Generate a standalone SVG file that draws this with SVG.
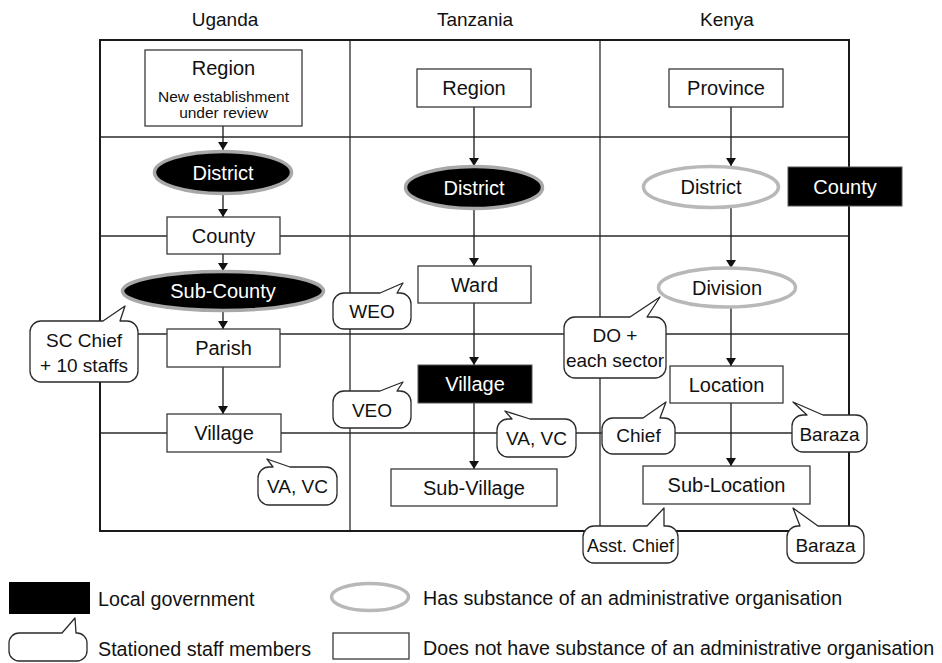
<svg xmlns="http://www.w3.org/2000/svg" width="942" height="663" viewBox="0 0 942 663">
  <defs>
    <style>
      text { font-family: "Liberation Sans", Arial, Helvetica, sans-serif; fill: #111; }
      .hdr { font-size: 19px; text-anchor: middle; }
      .node { font-size: 20px; text-anchor: middle; }
      .small { font-size: 15.5px; text-anchor: middle; }
      .inv { fill: #fff; }
      .call { font-size: 19px; text-anchor: middle; }
      .leg { font-size: 19.7px; }
      .frame { fill: none; stroke: #1a1a1a; stroke-width: 2; }
      .grid { stroke: #2a2a2a; stroke-width: 1.3; fill: none; }
      .box { fill: #fff; stroke: #3a3a3a; stroke-width: 1.3; }
      .lg { fill: #000; stroke: #555; stroke-width: 1; }
      .lgell { fill: #000; stroke: #a8a8a8; stroke-width: 3.5; }
      .adm { fill: #fff; stroke: #b8b8b8; stroke-width: 3.5; }
      .bubble { fill: #fff; stroke: #2a2a2a; stroke-width: 1.3; stroke-linejoin: round; }
      .conn { stroke: #1a1a1a; stroke-width: 1.3; fill: none; marker-end: url(#arrow); }
    </style>
    <marker id="arrow" viewBox="0 0 8 10" markerUnits="userSpaceOnUse" markerWidth="8" markerHeight="10" refX="8" refY="5" orient="auto">
      <path d="M0,0 L8,5 L0,10 Z" fill="#111"/>
    </marker>
  </defs>

  <rect width="942" height="663" fill="#fff"/>

  <!-- column headings -->
  <g id="headings">
    <text class="hdr" x="225" y="26">Uganda</text>
    <text class="hdr" x="475" y="26">Tanzania</text>
    <text class="hdr" x="727" y="26">Kenya</text>
  </g>

  <!-- table grid -->
  <g id="grid">
    <line class="grid" x1="350" y1="40" x2="350" y2="531"/>
    <line class="grid" x1="600" y1="40" x2="600" y2="531"/>
    <line class="grid" x1="100" y1="137" x2="849" y2="137"/>
    <line class="grid" x1="100" y1="236" x2="849" y2="236"/>
    <line class="grid" x1="100" y1="334" x2="849" y2="334"/>
    <line class="grid" x1="100" y1="433" x2="849" y2="433"/>
    <rect class="frame" x="100" y="40" width="749" height="491"/>
  </g>

  <!-- hierarchy connectors -->
  <g id="connectors">
    <line class="conn" x1="223" y1="126" x2="223" y2="150"/>
    <line class="conn" x1="223" y1="194" x2="223" y2="217"/>
    <line class="conn" x1="223" y1="254" x2="223" y2="271"/>
    <line class="conn" x1="223" y1="311" x2="223" y2="329"/>
    <line class="conn" x1="223" y1="367" x2="223" y2="414"/>

    <line class="conn" x1="474" y1="107" x2="474" y2="166"/>
    <line class="conn" x1="474" y1="209" x2="474" y2="266"/>
    <line class="conn" x1="474" y1="303" x2="474" y2="365"/>
    <line class="conn" x1="474" y1="403" x2="474" y2="469"/>

    <line class="conn" x1="731" y1="107" x2="731" y2="166"/>
    <line class="conn" x1="731" y1="208" x2="731" y2="268"/>
    <line class="conn" x1="731" y1="307" x2="731" y2="366"/>
    <line class="conn" x1="731" y1="403" x2="731" y2="466"/>
  </g>

  <!-- Uganda -->
  <g id="ug-region">
    <rect class="box" x="145" y="50" width="157" height="76"/>
    <text class="node" x="223.5" y="75">Region</text>
    <text class="small" x="223.5" y="102">New establishment</text>
    <text class="small" x="223.5" y="118">under review</text>
  </g>
  <g id="ug-district">
    <ellipse class="lgell" cx="223" cy="172.5" rx="68.5" ry="21"/>
    <text class="node inv" x="223" y="179.5">District</text>
  </g>
  <g id="ug-county">
    <rect class="box" x="167" y="217" width="113" height="37"/>
    <text class="node" x="223.5" y="242.5">County</text>
  </g>
  <g id="ug-subcounty">
    <ellipse class="lgell" cx="223" cy="291" rx="100.5" ry="19.5"/>
    <text class="node inv" x="223" y="298">Sub-County</text>
  </g>
  <g id="ug-parish">
    <rect class="box" x="167" y="329" width="113" height="38"/>
    <text class="node" x="223.5" y="355">Parish</text>
  </g>
  <g id="ug-village">
    <rect class="box" x="167" y="414" width="114" height="38"/>
    <text class="node" x="224" y="440">Village</text>
  </g>

  <!-- Tanzania -->
  <g id="tz-region">
    <rect class="box" x="417" y="69" width="114" height="38"/>
    <text class="node" x="474" y="95">Region</text>
  </g>
  <g id="tz-district">
    <ellipse class="lgell" cx="474" cy="187.5" rx="68.5" ry="21"/>
    <text class="node inv" x="474" y="194.5">District</text>
  </g>
  <g id="tz-ward">
    <rect class="box" x="418" y="266" width="113" height="37"/>
    <text class="node" x="474.5" y="291.5">Ward</text>
  </g>
  <g id="tz-village">
    <rect class="lg" x="418" y="365" width="114" height="38"/>
    <text class="node inv" x="475" y="391">Village</text>
  </g>
  <g id="tz-subvillage">
    <rect class="box" x="391" y="469" width="166" height="37"/>
    <text class="node" x="474" y="494.5">Sub-Village</text>
  </g>

  <!-- Kenya -->
  <g id="ke-province">
    <rect class="box" x="669" y="69" width="114" height="38"/>
    <text class="node" x="726" y="95">Province</text>
  </g>
  <g id="ke-district">
    <ellipse class="adm" cx="711" cy="187" rx="67.5" ry="20.5"/>
    <text class="node" x="711" y="194">District</text>
  </g>
  <g id="ke-county">
    <rect class="lg" x="788" y="167" width="114" height="39"/>
    <text class="node inv" x="845" y="193.5">County</text>
  </g>
  <g id="ke-division">
    <ellipse class="adm" cx="727" cy="287.5" rx="68.5" ry="19.5"/>
    <text class="node" x="727" y="294.5">Division</text>
  </g>
  <g id="ke-location">
    <rect class="box" x="670" y="366" width="113" height="37"/>
    <text class="node" x="726.5" y="391.5">Location</text>
  </g>
  <g id="ke-sublocation">
    <rect class="box" x="643" y="466" width="167" height="38"/>
    <text class="node" x="726.5" y="492">Sub-Location</text>
  </g>

  <!-- stationed staff callouts -->
  <g id="staff-sc-chief">
    <path class="bubble" d="M41,321 L103,321 L125,306 L120,321 L127,321 A11,11 0 0 1 138,332 L138,371 A11,11 0 0 1 127,382 L41,382 A11,11 0 0 1 30,371 L30,332 A11,11 0 0 1 41,321 Z"/>
    <text class="call" x="84" y="347">SC Chief</text>
    <text class="call" x="84" y="372">+ 10 staffs</text>
  </g>
  <g id="staff-ug-va">
    <path class="bubble" d="M269,467 L273,467 L267,459 L290,467 L326,467 A11,11 0 0 1 337,478 L337,494 A11,11 0 0 1 326,505 L269,505 A11,11 0 0 1 258,494 L258,478 A11,11 0 0 1 269,467 Z"/>
    <text class="call" x="297.5" y="493">VA, VC</text>
  </g>
  <g id="staff-weo">
    <path class="bubble" d="M344,293 L380,293 L403,283 L397,293 L400,293 A11,11 0 0 1 411,304 L411,318 A11,11 0 0 1 400,329 L344,329 A11,11 0 0 1 333,318 L333,304 A11,11 0 0 1 344,293 Z"/>
    <text class="call" x="372" y="318">WEO</text>
  </g>
  <g id="staff-veo">
    <path class="bubble" d="M344,391 L380,391 L403,382 L397,391 L400,391 A11,11 0 0 1 411,402 L411,417 A11,11 0 0 1 400,428 L344,428 A11,11 0 0 1 333,417 L333,402 A11,11 0 0 1 344,391 Z"/>
    <text class="call" x="372" y="416.5">VEO</text>
  </g>
  <g id="staff-tz-va">
    <path class="bubble" d="M508,419 L512,419 L505,411 L530,419 L565,419 A11,11 0 0 1 576,430 L576,446 A11,11 0 0 1 565,457 L508,457 A11,11 0 0 1 497,446 L497,430 A11,11 0 0 1 508,419 Z"/>
    <text class="call" x="536.5" y="445">VA, VC</text>
  </g>
  <g id="staff-do">
    <path class="bubble" d="M575,317 L630,317 L660,297 L647,317 L655,317 A11,11 0 0 1 666,328 L666,367 A11,11 0 0 1 655,378 L575,378 A11,11 0 0 1 564,367 L564,328 A11,11 0 0 1 575,317 Z"/>
    <text class="call" x="615" y="342">DO +</text>
    <text class="call" x="615" y="367">each sector</text>
  </g>
  <g id="staff-chief">
    <path class="bubble" d="M613,418 L643,418 L666,402 L660,418 L664,418 A11,11 0 0 1 675,429 L675,443 A11,11 0 0 1 664,454 L613,454 A11,11 0 0 1 602,443 L602,429 A11,11 0 0 1 613,418 Z"/>
    <text class="call" x="638.5" y="442">Chief</text>
  </g>
  <g id="staff-baraza-loc">
    <path class="bubble" d="M803,415 L807,415 L793,402 L823,415 L856,415 A11,11 0 0 1 867,426 L867,441 A11,11 0 0 1 856,452 L803,452 A11,11 0 0 1 792,441 L792,426 A11,11 0 0 1 803,415 Z"/>
    <text class="call" x="829.5" y="440.5">Baraza</text>
  </g>
  <g id="staff-asst-chief">
    <path class="bubble" d="M594,526 L647,526 L664,508 L664,526 L667,526 A11,11 0 0 1 678,537 L678,552 A11,11 0 0 1 667,563 L594,563 A11,11 0 0 1 583,552 L583,537 A11,11 0 0 1 594,526 Z"/>
    <text class="call" x="630.5" y="551.5" style="font-size:18px">Asst. Chief</text>
  </g>
  <g id="staff-baraza-subloc">
    <path class="bubble" d="M798,526 L800,526 L793,508 L818,526 L853,526 A11,11 0 0 1 864,537 L864,552 A11,11 0 0 1 853,563 L798,563 A11,11 0 0 1 787,552 L787,537 A11,11 0 0 1 798,526 Z"/>
    <text class="call" x="825.5" y="551.5">Baraza</text>
  </g>

  <!-- key -->
  <g id="legend">
    <rect x="9" y="582" width="81" height="32" fill="#000"/>
    <text class="leg" x="98" y="606">Local government</text>
    <ellipse cx="370" cy="597" rx="38.5" ry="13.5" fill="#fff" stroke="#b8b8b8" stroke-width="3.5"/>
    <text class="leg" x="423" y="605">Has substance of an administrative organisation</text>
    <path class="bubble" d="M19,633 L62,633 L75,618 L76,633 L77,633 A10,10 0 0 1 87,643 L87,651 A10,10 0 0 1 77,661 L19,661 A10,10 0 0 1 9,651 L9,643 A10,10 0 0 1 19,633 Z"/>
    <text class="leg" x="98" y="656">Stationed staff members</text>
    <rect class="box" x="333" y="633" width="76" height="26"/>
    <text class="leg" x="423" y="655">Does not have substance of an administrative organisation</text>
  </g>
</svg>
